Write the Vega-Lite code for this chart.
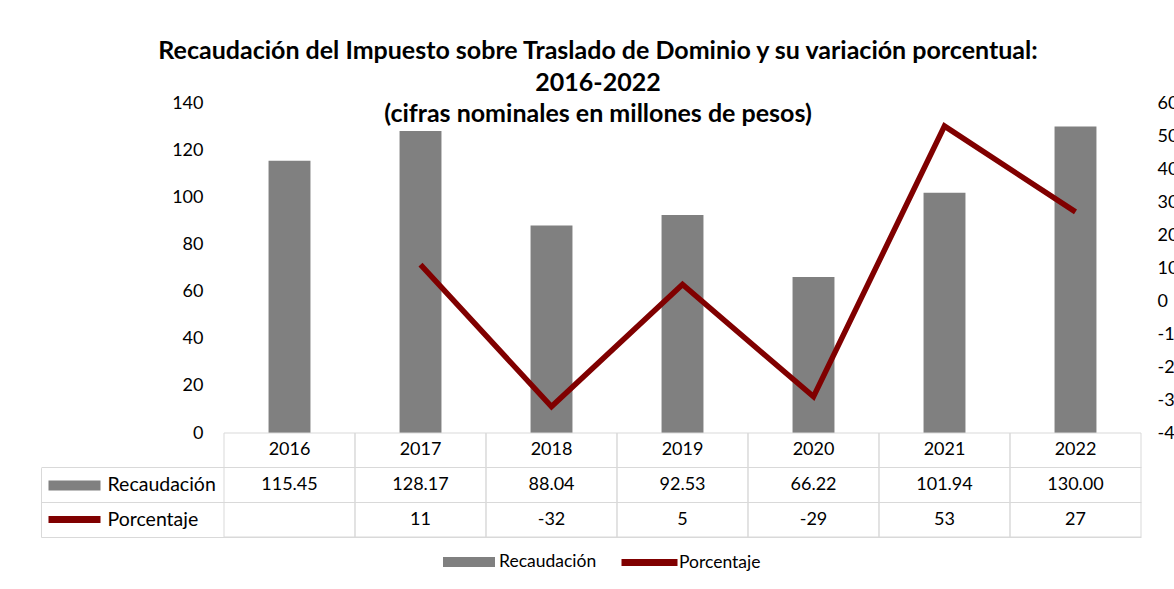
{
  "$schema": "https://vega.github.io/schema/vega-lite/v6.json",
  "background": "white",
  "padding": {"left": 41, "top": 39, "right": 0, "bottom": 0},
  "bounds": "flush",
  "config": {
    "font": "Lato",
    "view": {"stroke": null},
    "axis": {"labelFont": "Lato", "labelColor": "#000", "labelFontSize": 18},
    "legend": {"labelFont": "Lato", "labelFontSize": 17.5, "labelColor": "#000"}
  },
  "title": {
    "text": ["Recaudación del Impuesto sobre Traslado de Dominio y su variación porcentual:", "2016-2022", "(cifras nominales en millones de pesos)"],
    "anchor": "middle",
    "frame": "group",
    "font": "Lato",
    "fontSize": 25,
    "fontWeight": "bold",
    "color": "#000",
    "lineHeight": 31.5,
    "offset": -33,
    "dx": 7
  },
  "datasets": {
    "datos": [
      {"anio": "2016", "recaudacion": 115.45, "porcentaje": null},
      {"anio": "2017", "recaudacion": 128.17, "porcentaje": 11},
      {"anio": "2018", "recaudacion": 88.04, "porcentaje": -32},
      {"anio": "2019", "recaudacion": 92.53, "porcentaje": 5},
      {"anio": "2020", "recaudacion": 66.22, "porcentaje": -29},
      {"anio": "2021", "recaudacion": 101.94, "porcentaje": 53},
      {"anio": "2022", "recaudacion": 130.00, "porcentaje": 27}
    ]
  },
  "data": {"name": "datos"},
  "spacing": 0,
  "vconcat": [
    {
      "width": 1100,
      "height": 330,
      "layer": [
        {
          "mark": {"type": "bar", "width": {"band": 0.32}},
          "encoding": {
            "x": {"field": "anio", "type": "ordinal", "scale": {"paddingInner": 0, "paddingOuter": 0.6985, "align": 1}, "axis": null},
            "y": {"field": "recaudacion", "type": "quantitative", "scale": {"domain": [0, 140]},
              "axis": {"orient": "left", "offset": -183, "values": [0, 20, 40, 60, 80, 100, 120, 140], "domain": false, "ticks": false, "grid": false, "labelPadding": 21, "title": null}},
            "fill": {"datum": "Recaudación", "scale": {"domain": ["Recaudación"], "range": ["#808080"]},
              "legend": {"orient": "none", "legendX": 402, "legendY": 433, "title": null, "symbolType": "M-1,-0.19H1V0.19H-1Z", "symbolSize": 2704, "symbolStrokeWidth": 0}}
          }
        },
        {
          "mark": {"type": "line", "strokeWidth": 5.5, "strokeJoin": "miter", "strokeCap": "butt"},
          "encoding": {
            "x": {"field": "anio", "type": "ordinal"},
            "y": {"field": "porcentaje", "type": "quantitative", "scale": {"domain": [-40, 60]},
              "axis": {"orient": "right", "values": [-40, -30, -20, -10, 0, 10, 20, 30, 40, 50, 60], "labelExpr": "'' + datum.value", "domain": false, "ticks": false, "grid": false, "labelPadding": 16, "title": null}},
            "stroke": {"datum": "Porcentaje", "scale": {"domain": ["Porcentaje"], "range": ["#800000"]},
              "legend": {"orient": "none", "legendX": 577, "legendY": 428, "title": null, "symbolType": "stroke", "symbolSize": 3136, "symbolStrokeWidth": 7, "labelOffset": -2}}
          }
        }
      ],
      "resolve": {"scale": {"y": "independent"}}
    },
    {
      "width": 1100,
      "height": 104,
      "layer": [
        {
          "mark": {"type": "rect", "fill": "white", "fillOpacity": 0, "stroke": "#d9d9d9", "strokeWidth": 1},
          "encoding": {
            "x": {"field": "anio", "type": "ordinal", "scale": {"paddingInner": 0, "paddingOuter": 0.6985, "align": 1}, "axis": null}
          }
        },
        {
          "mark": {"type": "text", "fontSize": 18, "font": "Lato", "color": "#000"},
          "encoding": {
            "x": {"field": "anio", "type": "ordinal"},
            "y": {"datum": "Año", "type": "nominal",
              "scale": {"type": "band", "domain": ["Año", "Recaudación", "Porcentaje"], "paddingInner": 0, "paddingOuter": 0},
              "axis": {"orient": "left", "offset": 0, "domain": true, "domainColor": "#d9d9d9", "domainWidth": 1, "domainDash": [0, 34.67, 69.33, 1], "ticks": false, "grid": true, "gridColor": "#d9d9d9", "gridWidth": 1, "bandPosition": 1, "labelAlign": "left", "labelBaseline": "middle", "labelPadding": -66, "labelFontSize": 19.5, "labelExpr": "datum.value == 'Año' ? '' : datum.value", "title": null}},
            "text": {"field": "anio"}
          }
        },
        {
          "mark": {"type": "text", "fontSize": 18, "font": "Lato", "color": "#000"},
          "encoding": {
            "x": {"field": "anio", "type": "ordinal"},
            "y": {"datum": "Recaudación", "type": "nominal",
              "axis": {"orient": "left", "offset": -59, "domain": false, "grid": false, "labels": false, "ticks": true, "tickSize": 52, "bandPosition": 0.5, "tickCap": "butt",
                "tickColor": {"condition": {"test": "datum.value == 'Recaudación'", "value": "#808080"}, "value": "#800000"},
                "tickOpacity": {"condition": {"test": "datum.value == 'Año'", "value": 0}, "value": 1},
                "tickWidth": {"condition": {"test": "datum.value == 'Recaudación'", "value": 10}, "value": 7},
                "title": null}},
            "text": {"field": "recaudacion", "type": "quantitative", "format": ".2f"}
          }
        },
        {
          "transform": [{"filter": "datum.porcentaje != null"}],
          "mark": {"type": "text", "fontSize": 18, "font": "Lato", "color": "#000"},
          "encoding": {
            "x": {"field": "anio", "type": "ordinal"},
            "y": {"datum": "Porcentaje", "type": "nominal", "axis": null},
            "text": {"field": "porcentaje", "type": "nominal"}
          }
        }
      ],
      "resolve": {"axis": {"y": "independent"}}
    }
  ]
}
